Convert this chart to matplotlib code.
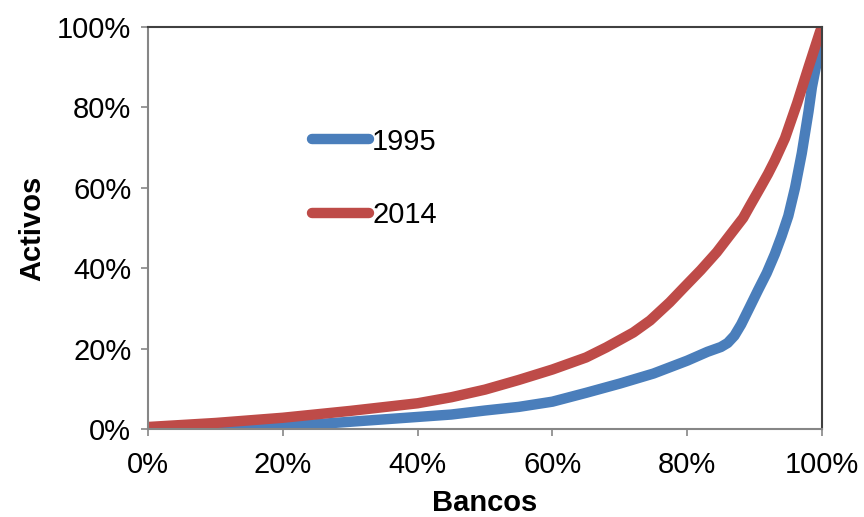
import matplotlib.pyplot as plt
from matplotlib.ticker import PercentFormatter

plt.rcParams['font.family'] = ['Liberation Sans', 'DejaVu Sans']

# cumulative share of banks (x) vs cumulative share of assets (y), in %
bancos_1995 = [0, 8, 15, 20, 30, 40, 45, 50, 55, 60, 65, 70, 75, 80, 83, 85, 86, 87, 88,
               89.3, 90.5, 91.8, 93, 94, 95, 96, 97, 98, 98.5, 99.2, 99.7, 100]
activos_1995 = [0, 0, 0.3, 0.6, 1.8, 3.0, 3.6, 4.6, 5.5, 6.8, 9.0, 11.3, 13.8, 17, 19.2, 20.4, 21.4, 23.2, 26,
                30.4, 34.5, 38.8, 43.5, 48, 53, 60, 68.6, 79, 85, 91, 95, 100]

bancos_2014 = [0, 10, 20, 30, 40, 45, 50, 55, 60, 65, 68, 72, 74.5, 77.4, 79.4, 82, 84.4, 86,
               88.3, 89.3, 91, 92, 93, 94.5, 96.3, 98, 99.7, 100]
activos_2014 = [0.5, 1.5, 2.8, 4.5, 6.4, 7.9, 9.8, 12.2, 14.8, 17.8, 20.3, 24, 27, 31.5, 35, 39.5, 44, 47.5,
                52.5, 55.5, 60.5, 63.5, 66.8, 72.3, 81, 90, 98.8, 100]

ticks = [0, 20, 40, 60, 80, 100]

fig = plt.figure(figsize=(8.64, 5.17), dpi=100)
ax = fig.add_axes([0.1713, 0.1702, 0.7801, 0.7776])

ax.plot(bancos_1995, activos_1995, color='#4A7EBB', lw=7.5, solid_capstyle='round', solid_joinstyle='round', label='1995')
ax.plot(bancos_2014, activos_2014, color='#BE4B48', lw=7.5, solid_capstyle='round', solid_joinstyle='round', label='2014')

ax.set_xlim(0, 100)
ax.set_ylim(0, 100)
ax.set_xticks(ticks)
ax.set_yticks(ticks)
ax.xaxis.set_major_formatter(PercentFormatter(decimals=0))
ax.yaxis.set_major_formatter(PercentFormatter(decimals=0))
ax.tick_params(direction='out', length=5, width=1.2, color='#868686', labelsize=21)
ax.tick_params(axis='x', pad=11)
ax.tick_params(axis='y', pad=7)

for side in ['left', 'bottom']:
    ax.spines[side].set_color('#868686')
    ax.spines[side].set_linewidth(1.5)
for side in ['top', 'right']:
    ax.spines[side].set_color('#404040')
    ax.spines[side].set_linewidth(1.5)

ax.set_xlabel('Bancos', fontsize=21, fontweight='bold', labelpad=7)
ax.set_ylabel('Activos', fontsize=21, fontweight='bold', labelpad=8)

ax.legend(loc='upper left', bbox_to_anchor=(0.205, 0.815), frameon=False, fontsize=21,
          handlelength=1.95, handletextpad=0.1, labelspacing=1.55)

fig.savefig('out.png', dpi=100)
